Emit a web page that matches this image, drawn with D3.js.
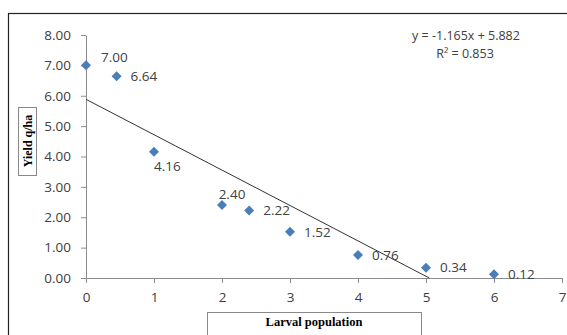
<!DOCTYPE html>
<html>
<head>
<meta charset="utf-8">
<script src="https://cdn.jsdelivr.net/npm/d3@7"></script>
<style>
  body { margin: 0; background: #fff; }
  svg { display: block; }
</style>
</head>
<body>
<div id="chart"></div>
<script>
// larval population vs yield
const larvae = [0, 0.45, 1, 2, 2.4, 3, 4, 5, 6];
const yieldQ = [7.00, 6.64, 4.16, 2.40, 2.22, 1.52, 0.76, 0.34, 0.12];
const labelSide = ['upRight', 'right', 'below', 'above', 'right', 'right', 'right', 'right', 'right'];
const xTicks = [0, 1, 2, 3, 4, 5, 6, 7];
const yTicks = [0, 1, 2, 3, 4, 5, 6, 7, 8];
const slope = -1.165;
const intercept = 5.882;
const r2 = 0.853;

const width = 567, height = 335;
const fontFam = '"Open Sans", Lato, sans-serif';
const axisColor = '#8c8c8c';
const textColor = '#404040';

const svg = d3.select('#chart').append('svg')
    .attr('width', width)
    .attr('height', height);

// outer frame (runs off the right and bottom)
svg.append('rect')
    .attr('x', 8.5).attr('y', 13.5)
    .attr('width', 600).attr('height', 400)
    .attr('fill', 'none')
    .attr('stroke', '#222')
    .attr('stroke-width', 1.2);

const x = d3.scaleLinear().domain([0, 7]).range([86, 562]);
const y = d3.scaleLinear().domain([0, 8]).range([278, 35]);

const xAxis = svg.append('g')
    .attr('transform', `translate(0,${y(0)})`)
    .call(d3.axisBottom(x).tickValues(xTicks).tickSize(5).tickSizeOuter(0).tickPadding(9)
        .tickFormat(d3.format('d')));

const yAxis = svg.append('g')
    .attr('transform', `translate(${x(0)},0)`)
    .call(d3.axisLeft(y).tickValues(yTicks).tickSize(5).tickSizeOuter(0).tickPadding(10)
        .tickFormat(d3.format('.2f')));

[xAxis, yAxis].forEach(g => {
    g.select('.domain').attr('stroke', axisColor);
    g.selectAll('.tick line').attr('stroke', axisColor);
    g.selectAll('.tick text')
        .attr('fill', textColor)
        .style('font-family', fontFam)
        .style('font-size', '13.5px');
});

// trend line, clipped at y = 0 like the source
const xEnd = -intercept / slope;
svg.append('line')
    .attr('x1', x(0)).attr('y1', y(intercept))
    .attr('x2', x(xEnd)).attr('y2', y(0))
    .attr('stroke', '#333')
    .attr('stroke-width', 1);

const pts = larvae.map((v, i) => ({ x: v, y: yieldQ[i], side: labelSide[i] }));

const diamond = d3.symbol().type(d3.symbolSquare).size(50);
svg.selectAll('path.pt')
    .data(pts).enter()
    .append('path')
    .attr('class', 'pt')
    .attr('d', diamond)
    .attr('transform', d => `translate(${x(d.x)},${y(d.y)}) rotate(45)`)
    .attr('fill', '#4a7ebb');

const offs = {
    upRight: [15, -8, 'start'],
    above: [10, -11, 'middle'],
    right: [14, 0, 'start'],
    below: [0, 15, 'start']
};
svg.selectAll('text.lbl')
    .data(pts).enter()
    .append('text')
    .attr('class', 'lbl')
    .attr('x', d => x(d.x) + offs[d.side][0])
    .attr('y', d => y(d.y) + offs[d.side][1])
    .attr('dy', '0.35em')
    .attr('text-anchor', d => offs[d.side][2])
    .attr('fill', textColor)
    .style('font-family', fontFam)
    .style('font-size', '13.5px')
    .text(d => d3.format('.2f')(d.y));

// equation
const eq = svg.append('g')
    .attr('fill', textColor)
    .style('font-family', fontFam)
    .style('font-size', '12.5px');
eq.append('text')
    .attr('x', 466).attr('y', 40)
    .attr('text-anchor', 'middle')
    .text(`y = ${slope}x + ${intercept}`);
eq.append('text')
    .attr('x', 465).attr('y', 58)
    .attr('text-anchor', 'middle')
    .text(`R² = ${r2}`);

// axis titles in boxes
const yt = svg.append('g');
yt.append('rect')
    .attr('x', 18.5).attr('y', 107.5)
    .attr('width', 18).attr('height', 68)
    .attr('fill', '#fff').attr('stroke', '#888');
yt.append('text')
    .attr('transform', 'translate(32,141) rotate(-90)')
    .attr('text-anchor', 'middle')
    .style('font-family', '"Liberation Serif", serif')
    .style('font-weight', 'bold')
    .style('font-size', '12px')
    .text('Yield q/ha');

const xt = svg.append('g');
xt.append('rect')
    .attr('x', 207.5).attr('y', 312.5)
    .attr('width', 214).attr('height', 40)
    .attr('fill', '#fff').attr('stroke', '#888');
xt.append('text')
    .attr('x', 314).attr('y', 326)
    .attr('text-anchor', 'middle')
    .style('font-family', '"Liberation Serif", serif')
    .style('font-weight', 'bold')
    .style('font-size', '12.5px')
    .text('Larval population');
</script>
</body>
</html>
